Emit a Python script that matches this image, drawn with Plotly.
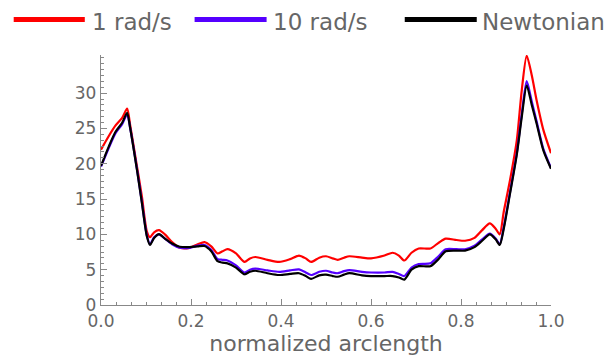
import plotly.graph_objects as go

arclength = [0.0, 0.017, 0.032, 0.047, 0.058, 0.065, 0.08, 0.091, 0.102, 0.109,
             0.118, 0.129, 0.142, 0.158, 0.175, 0.197, 0.215, 0.23, 0.245, 0.259,
             0.27, 0.281, 0.3, 0.319, 0.331, 0.343, 0.37, 0.396, 0.42, 0.44,
             0.455, 0.467, 0.485, 0.5, 0.515, 0.526, 0.54, 0.552, 0.58, 0.6,
             0.63, 0.648, 0.662, 0.674, 0.69, 0.706, 0.732, 0.75, 0.766, 0.79,
             0.809, 0.83, 0.847, 0.864, 0.877, 0.886, 0.895, 0.909, 0.924, 0.935,
             0.946, 0.957, 0.968, 0.983, 1.0]

rad1 = [22.0, 23.9, 25.4, 26.5, 27.8, 25.4, 19.6, 15.3, 10.4, 9.6,
        10.3, 10.6, 10.0, 8.9, 8.1, 8.1, 8.6, 8.9, 8.3, 7.3,
        7.6, 7.9, 7.3, 6.1, 6.6, 6.8, 6.4, 6.1, 6.5, 7.0,
        6.6, 6.1, 6.7, 6.9, 6.6, 6.4, 6.7, 6.9, 6.7, 6.6,
        7.0, 7.4, 7.0, 6.3, 7.4, 8.0, 8.0, 8.8, 9.4, 9.2,
        9.1, 9.5, 10.6, 11.55, 10.8, 10.0, 13.2, 17.7, 23.3, 30.4,
        35.3, 32.6, 29.0, 24.8, 21.5]

rad10 = [19.6, 22.2, 24.3, 25.6, 27.0, 25.0, 19.2, 14.5, 9.8, 8.6,
         9.6, 10.0, 9.4, 8.6, 8.1, 8.1, 8.4, 8.5, 7.8, 6.5,
         6.4, 6.3, 5.6, 4.6, 5.0, 5.15, 4.9, 4.7, 4.9, 5.05,
         4.6, 4.25, 4.7, 4.85, 4.6, 4.5, 4.8, 4.95, 4.7, 4.6,
         4.6, 4.7, 4.4, 4.1, 5.3, 5.8, 5.9, 6.9, 7.9, 7.9,
         7.9, 8.4, 9.3, 10.1, 9.4, 8.6, 11.0, 16.0, 21.5, 27.0,
         31.7, 28.9, 26.0, 22.1, 19.4]

newtonian = [19.7, 22.4, 24.5, 25.8, 27.2, 25.0, 19.1, 14.4, 9.7, 8.5,
             9.5, 10.05, 9.4, 8.7, 8.25, 8.2, 8.3, 8.35, 7.6, 6.2,
             6.0, 5.9, 5.3, 4.35, 4.7, 4.85, 4.5, 4.25, 4.4, 4.5,
             4.1, 3.7, 4.2, 4.3, 4.1, 4.0, 4.3, 4.5, 4.2, 4.1,
             4.1, 4.1, 3.9, 3.6, 5.0, 5.5, 5.5, 6.5, 7.6, 7.7,
             7.7, 8.2, 9.1, 10.0, 9.3, 8.5, 10.8, 15.8, 21.3, 26.6,
             31.1, 28.4, 25.7, 21.9, 19.3]

series_names = ["1 rad/s", "10 rad/s", "Newtonian"]
series_colors = ["#ff0000", "#5500ff", "#000000"]

# legend key positions in paper coordinates (line start, line end, text start)
legend_keys = [(-0.194, -0.036, -0.025), (0.208, 0.368, 0.377), (0.675, 0.835, 0.843)]
legend_line_y = 1.142
legend_text_y = 1.131

fig = go.Figure()
for name, ys, col in zip(series_names, [rad1, rad10, newtonian], series_colors):
    fig.add_trace(go.Scatter(x=arclength, y=ys, mode="lines", name=name, showlegend=False,
                             line=dict(color=col, width=2.2, shape="spline", smoothing=0.7)))

for name, col, (x0, x1, xt) in zip(series_names, series_colors, legend_keys):
    fig.add_shape(type="line", xref="paper", yref="paper", x0=x0, x1=x1,
                  y0=legend_line_y, y1=legend_line_y, line=dict(color=col, width=5))
    fig.add_annotation(xref="paper", yref="paper", x=xt, y=legend_text_y, text=name,
                       showarrow=False, xanchor="left", yanchor="middle",
                       font=dict(family="DejaVu Sans", size=23, color="#666666"))

axis_common = dict(
    showgrid=False, zeroline=False, showline=True, linecolor="#888888", linewidth=1.3,
    ticks="inside", ticklen=6, tickcolor="#888888", tickwidth=1, automargin=False,
    tickfont=dict(family="DejaVu Sans", size=17, color="#666666"),
)

fig.update_layout(
    width=609, height=360,
    margin=dict(l=101, r=58, t=55, b=55),
    paper_bgcolor="white", plot_bgcolor="white",
    font=dict(family="DejaVu Sans", color="#666666"),
    showlegend=False,
    xaxis=dict(range=[0, 1], tickvals=[0, 0.2, 0.4, 0.6, 0.8, 1.0],
               ticktext=["0.0", "0.2", "0.4", "0.6", "0.8", "1.0"],
               minor=dict(dtick=1/30, ticks="inside", ticklen=3, tickcolor="#888888", showgrid=False),
               title=dict(text="normalized arclength", font=dict(family="DejaVu Sans", size=22, color="#666666"), standoff=2),
               **axis_common),
    yaxis=dict(range=[0, 35.4], tickvals=[0, 5, 10, 15, 20, 25, 30],
               minor=dict(dtick=5/6, ticks="inside", ticklen=3, tickcolor="#888888", showgrid=False),
               **axis_common),
)

fig.write_html("out.html")
